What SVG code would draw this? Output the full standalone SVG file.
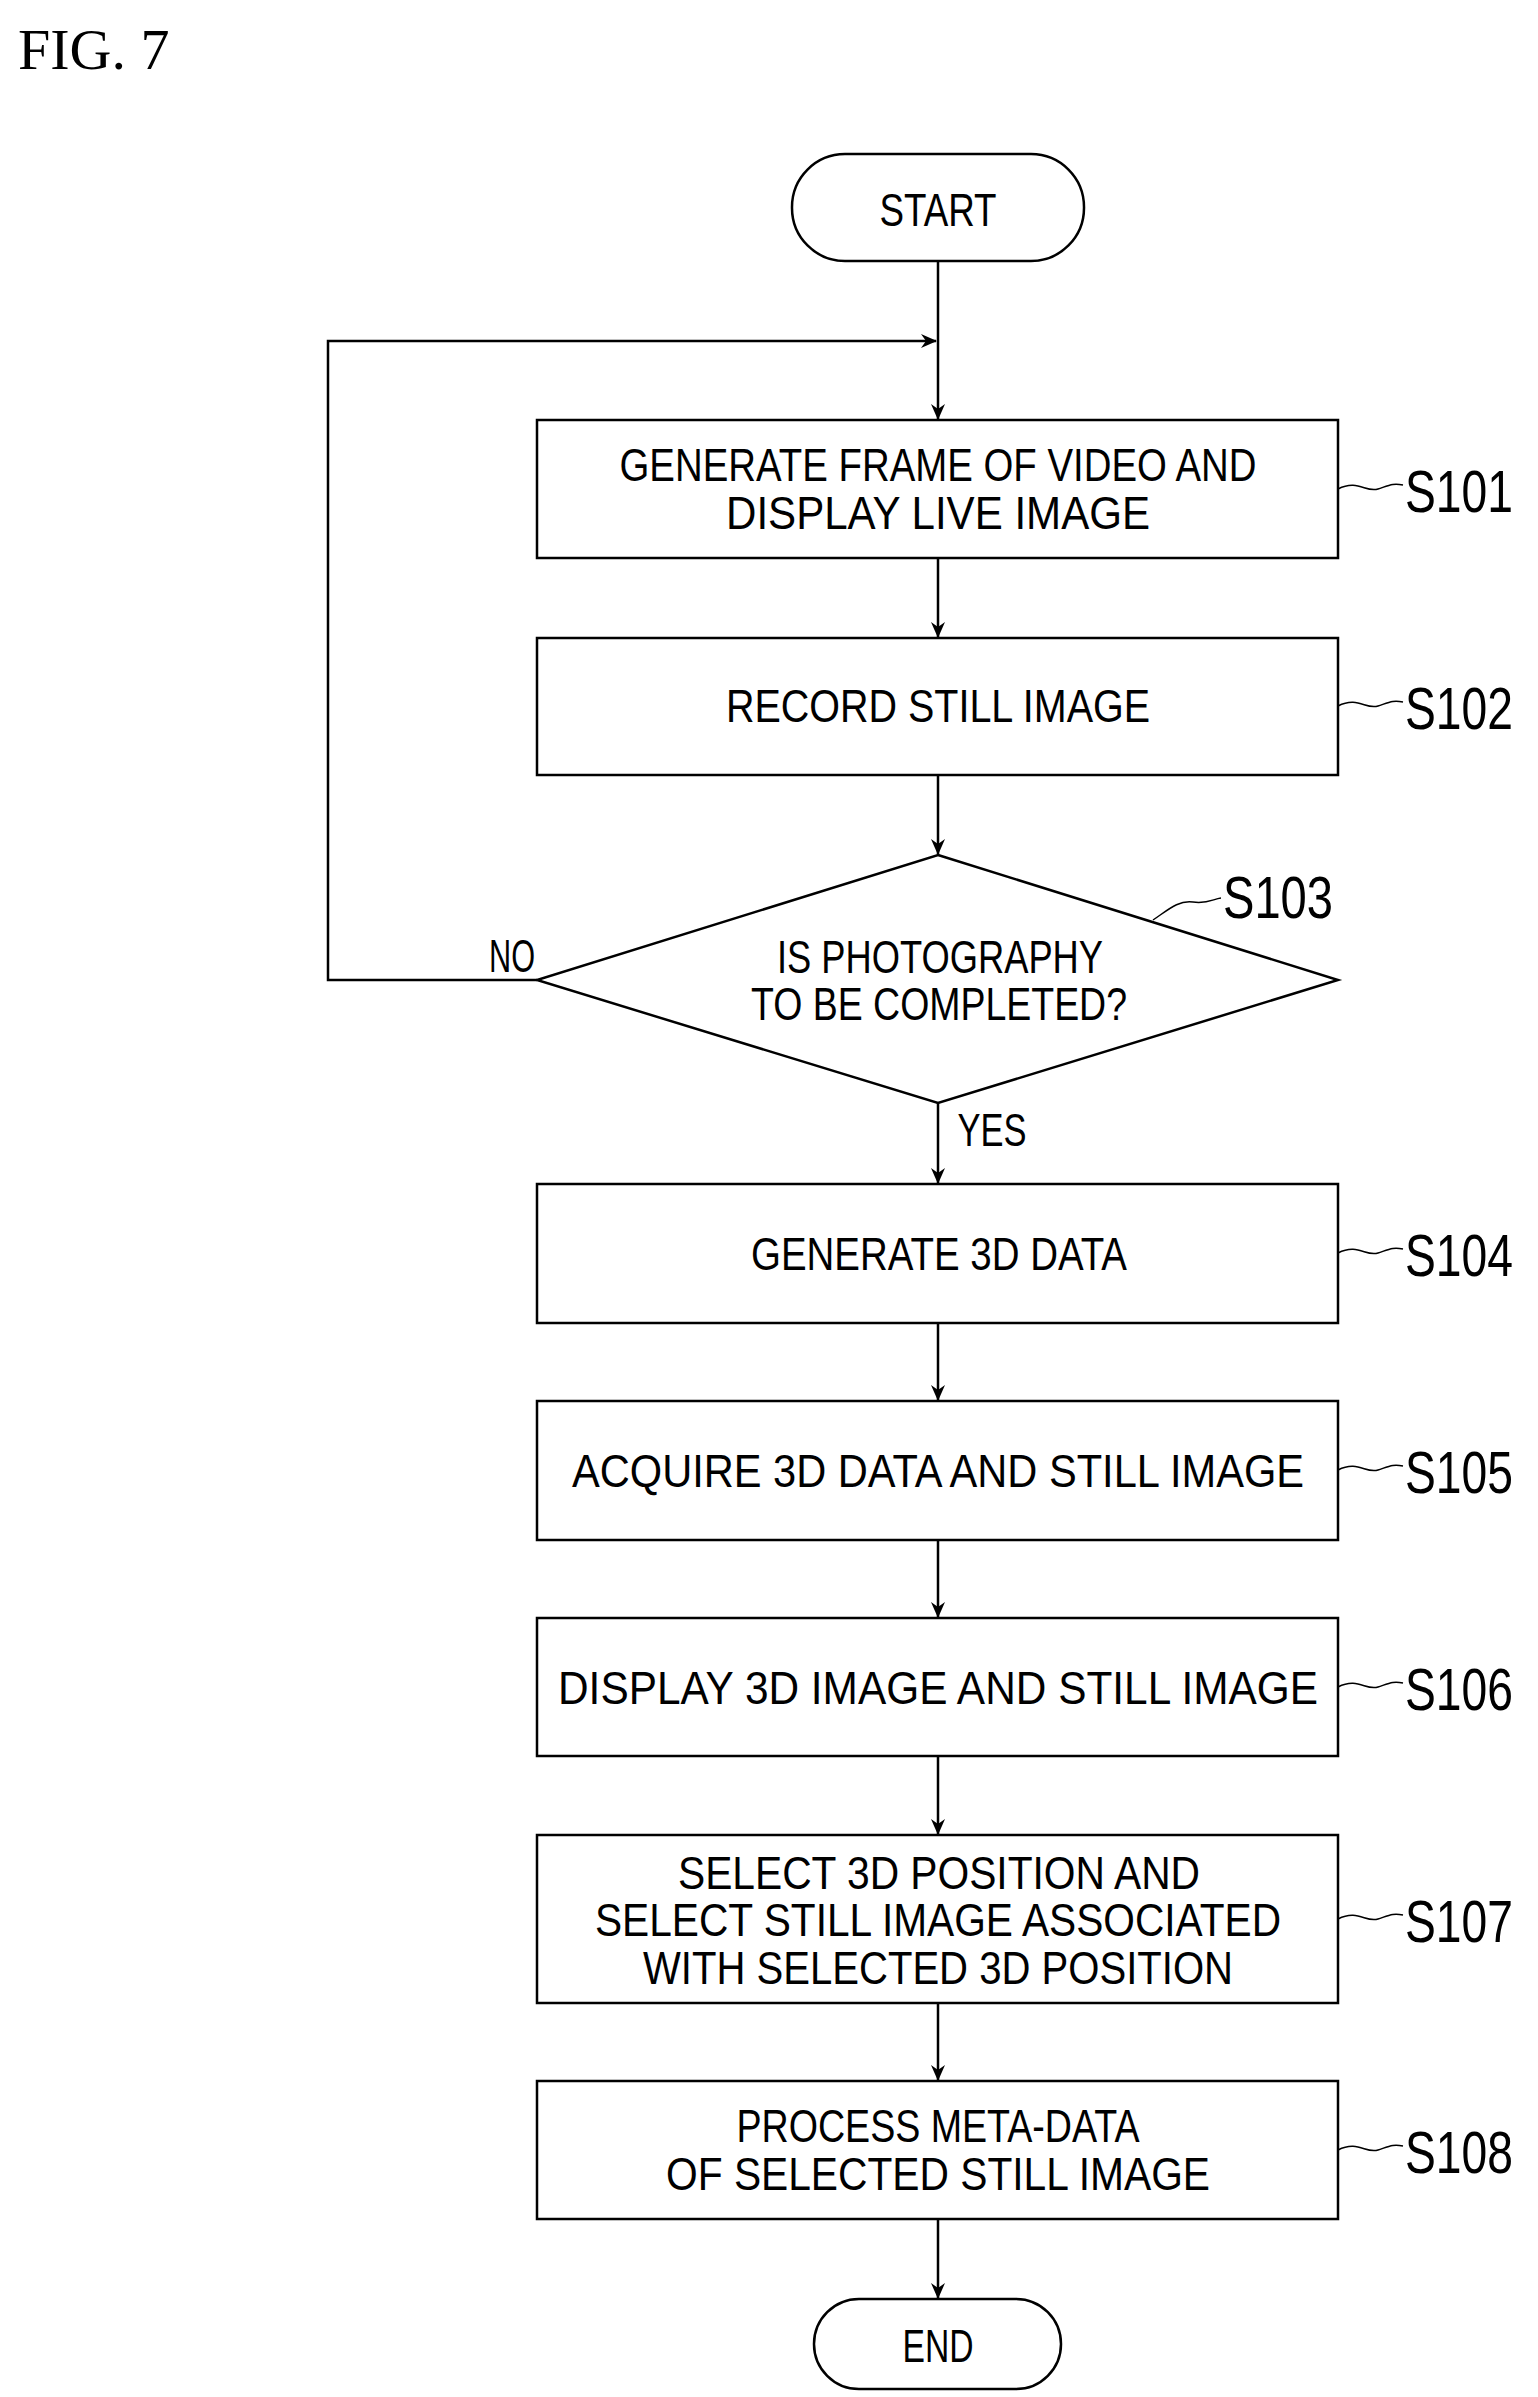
<svg xmlns="http://www.w3.org/2000/svg" width="1538" height="2397" viewBox="0 0 1538 2397">
<style>
.b{fill:#fff;stroke:#000;stroke-width:2.5}
.t{font-family:"Liberation Sans",sans-serif;font-size:46px;text-anchor:middle;fill:#000}
.l{font-family:"Liberation Sans",sans-serif;font-size:60px;fill:#000}
.c{fill:none;stroke:#000;stroke-width:2.5}
.s{fill:none;stroke:#000;stroke-width:1.5}
</style>
<defs><marker id="a" markerWidth="16" markerHeight="14" refX="15" refY="7" orient="auto" markerUnits="userSpaceOnUse"><path d="M0,0 L16,7 L0,14 L5,7 Z" fill="#000"/></marker></defs>
<rect width="1538" height="2397" fill="#fff"/>
<text x="18" y="69" font-family="Liberation Serif,serif" font-size="58">FIG. 7</text>
<g id="connectors">
<line class="c" x1="938" y1="261" x2="938" y2="419" marker-end="url(#a)"/>
<path class="c" d="M537,980 H328 V341 H936" marker-end="url(#a)"/>
<line class="c" x1="938" y1="558" x2="938" y2="637" marker-end="url(#a)"/>
<line class="c" x1="938" y1="775" x2="938" y2="854" marker-end="url(#a)"/>
<line class="c" x1="938" y1="1103" x2="938" y2="1183" marker-end="url(#a)"/>
<line class="c" x1="938" y1="1323" x2="938" y2="1400" marker-end="url(#a)"/>
<line class="c" x1="938" y1="1540" x2="938" y2="1617" marker-end="url(#a)"/>
<line class="c" x1="938" y1="1756" x2="938" y2="1834" marker-end="url(#a)"/>
<line class="c" x1="938" y1="2003" x2="938" y2="2080" marker-end="url(#a)"/>
<line class="c" x1="938" y1="2219" x2="938" y2="2298" marker-end="url(#a)"/>
<text class="t" x="512" y="972" textLength="46" lengthAdjust="spacingAndGlyphs">NO</text>
<text class="t" x="992" y="1146" textLength="69" lengthAdjust="spacingAndGlyphs">YES</text>
</g>
<g id="start"><rect class="b" x="792" y="154" width="292" height="107" rx="53"/><text class="t" x="938" y="226" textLength="117" lengthAdjust="spacingAndGlyphs">START</text></g>
<g id="s101"><rect class="b" x="537" y="420" width="801" height="138"/>
<text class="t" x="938" y="481" textLength="637" lengthAdjust="spacingAndGlyphs">GENERATE FRAME OF VIDEO AND</text>
<text class="t" x="938" y="529" textLength="424" lengthAdjust="spacingAndGlyphs">DISPLAY LIVE IMAGE</text>
<path class="s" d="M1338,489 c20,-10 28,4 40,0 s15,-6 25,-4"/><text class="l" x="1405" y="512" textLength="108" lengthAdjust="spacingAndGlyphs">S101</text></g>
<g id="s102"><rect class="b" x="537" y="638" width="801" height="137"/>
<text class="t" x="938" y="722" textLength="424" lengthAdjust="spacingAndGlyphs">RECORD STILL IMAGE</text>
<path class="s" d="M1338,706 c20,-10 28,4 40,0 s15,-6 25,-4"/><text class="l" x="1405" y="729" textLength="108" lengthAdjust="spacingAndGlyphs">S102</text></g>
<g id="s103"><polygon class="b" points="938,855 1338,980 938,1103 537,980"/>
<text class="t" x="940" y="973" textLength="326" lengthAdjust="spacingAndGlyphs">IS PHOTOGRAPHY</text>
<text class="t" x="939" y="1020" textLength="376" lengthAdjust="spacingAndGlyphs">TO BE COMPLETED?</text>
<path class="s" d="M1153,920 c15,-10 25,-20 40,-18 s20,-3 28,-4"/><text class="l" x="1223" y="918" textLength="110" lengthAdjust="spacingAndGlyphs">S103</text></g>
<g id="s104"><rect class="b" x="537" y="1184" width="801" height="139"/>
<text class="t" x="939" y="1270" textLength="376" lengthAdjust="spacingAndGlyphs">GENERATE 3D DATA</text>
<path class="s" d="M1338,1253 c20,-10 28,4 40,0 s15,-6 25,-4"/><text class="l" x="1405" y="1276" textLength="108" lengthAdjust="spacingAndGlyphs">S104</text></g>
<g id="s105"><rect class="b" x="537" y="1401" width="801" height="139"/>
<text class="t" x="938" y="1487" textLength="732" lengthAdjust="spacingAndGlyphs">ACQUIRE 3D DATA AND STILL IMAGE</text>
<path class="s" d="M1338,1470 c20,-10 28,4 40,0 s15,-6 25,-4"/><text class="l" x="1405" y="1493" textLength="108" lengthAdjust="spacingAndGlyphs">S105</text></g>
<g id="s106"><rect class="b" x="537" y="1618" width="801" height="138"/>
<text class="t" x="938" y="1704" textLength="760" lengthAdjust="spacingAndGlyphs">DISPLAY 3D IMAGE AND STILL IMAGE</text>
<path class="s" d="M1338,1687 c20,-10 28,4 40,0 s15,-6 25,-4"/><text class="l" x="1405" y="1710" textLength="108" lengthAdjust="spacingAndGlyphs">S106</text></g>
<g id="s107"><rect class="b" x="537" y="1835" width="801" height="168"/>
<text class="t" x="939" y="1889" textLength="522" lengthAdjust="spacingAndGlyphs">SELECT 3D POSITION AND</text>
<text class="t" x="938" y="1936" textLength="686" lengthAdjust="spacingAndGlyphs">SELECT STILL IMAGE ASSOCIATED</text>
<text class="t" x="938" y="1984" textLength="590" lengthAdjust="spacingAndGlyphs">WITH SELECTED 3D POSITION</text>
<path class="s" d="M1338,1919 c20,-10 28,4 40,0 s15,-6 25,-4"/><text class="l" x="1405" y="1942" textLength="108" lengthAdjust="spacingAndGlyphs">S107</text></g>
<g id="s108"><rect class="b" x="537" y="2081" width="801" height="138"/>
<text class="t" x="938" y="2142" textLength="403" lengthAdjust="spacingAndGlyphs">PROCESS META-DATA</text>
<text class="t" x="938" y="2190" textLength="544" lengthAdjust="spacingAndGlyphs">OF SELECTED STILL IMAGE</text>
<path class="s" d="M1338,2150 c20,-10 28,4 40,0 s15,-6 25,-4"/><text class="l" x="1405" y="2173" textLength="108" lengthAdjust="spacingAndGlyphs">S108</text></g>
<g id="end"><rect class="b" x="814" y="2299" width="247" height="90" rx="45"/><text class="t" x="938" y="2362" textLength="71" lengthAdjust="spacingAndGlyphs">END</text></g>
</svg>
